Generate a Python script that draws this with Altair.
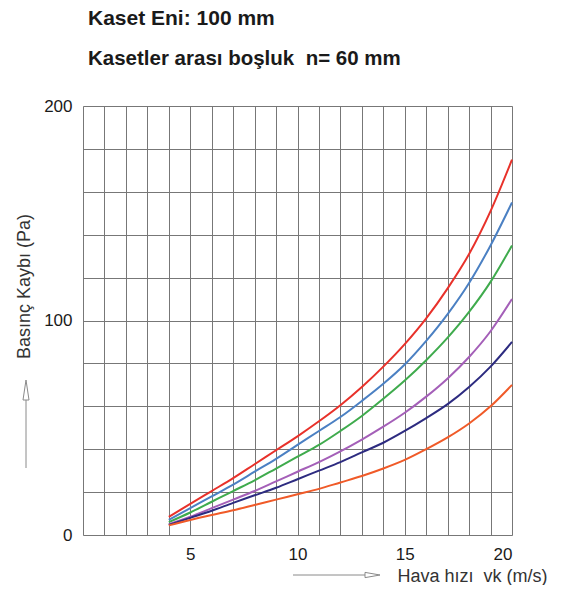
import altair as alt
import pandas as pd

# ---- data ----
vk = [4, 5, 6, 7, 8, 9, 10, 11, 12, 13, 14, 15, 16, 17, 18, 19, 20]
s1 = [8.5, 14.5, 20.5, 26.5, 33, 39.5, 46, 53, 60.5, 69, 78.5, 89, 101, 115, 131, 151, 175]
s2 = [7, 12.5, 18, 23.5, 29.5, 35.5, 42, 48.5, 55, 62.5, 70.5, 79.5, 90.5, 103, 117.5, 135, 155]
s3 = [6, 10.5, 15.5, 20.5, 25.5, 31, 36.5, 42, 48.5, 55.5, 63.5, 72, 81.5, 92, 104, 118, 135]
s4 = [5, 8.5, 12.5, 16.5, 20.5, 25, 29.5, 34, 39, 44.5, 50.5, 57, 64.5, 73, 83, 95, 110]
s5 = [4.7, 8, 11.3, 15, 18.5, 22, 26, 30, 34, 38.5, 43, 48.5, 54.5, 61, 69, 78.5, 90]
s6 = [4.5, 7, 9.3, 11.5, 14, 16.5, 19, 21.5, 24.5, 27.5, 31, 35, 40, 45.5, 52, 60, 70]

series_names = ["s1", "s2", "s3", "s4", "s5", "s6"]
series_values = [s1, s2, s3, s4, s5, s6]
series_colors = ["#e8312a", "#4b80c3", "#3fab4d", "#a45fb8", "#2d2b80", "#f05a28"]

x_ticks = list(range(0, 21))
y_ticks = list(range(0, 201, 20))

rows = []
for name, vals in zip(series_names, series_values):
    for xv, yv in zip(vk, vals):
        rows.append({"vk": xv, "dp": yv, "seri": name})
df = pd.DataFrame(rows)

FONT = "Liberation Sans"
GRID = "#777777"
ARROW = "#8a8a8a"

x_enc = alt.X(
    "vk:Q",
    scale=alt.Scale(domain=[0, 20], nice=False, zero=False),
    axis=alt.Axis(
        values=x_ticks,
        grid=True,
        gridColor=GRID,
        gridWidth=1,
        gridOpacity=1,
        ticks=False,
        domain=False,
        labelExpr="datum.value % 5 === 0 && datum.value > 0 ? datum.label : ''",
        labelFont=FONT,
        labelFontSize=17,
        labelColor="#1a1a1a",
        labelPadding=11,
        title="Hava hızı\u00a0 vk (m/s)",
        titleFont=FONT,
        titleFontSize=18,
        titleFontWeight="normal",
        titleColor="#333333",
        titleAnchor="start",
        titleAlign="left",
        titleBaseline="alphabetic",
        titleX=314,
        titleY=46,
    ),
)

y_enc = alt.Y(
    "dp:Q",
    scale=alt.Scale(domain=[0, 200], nice=False),
    axis=alt.Axis(
        values=y_ticks,
        grid=True,
        gridColor=GRID,
        gridWidth=1,
        gridOpacity=1,
        ticks=False,
        domain=False,
        labelExpr="datum.value % 100 === 0 ? datum.label : ''",
        labelFont=FONT,
        labelFontSize=17,
        labelColor="#1a1a1a",
        labelPadding=11,
        title="Basınç Kaybı (Pa)",
        titleFont=FONT,
        titleFontSize=18,
        titleFontWeight="normal",
        titleColor="#333333",
        titleAngle=270,
        titleAlign="center",
        titleBaseline="alphabetic",
        titleX=-54,
        titleY=180,
    ),
)

lines = alt.Chart(df).mark_line(strokeWidth=2, interpolate="monotone").encode(
    x=x_enc,
    y=y_enc,
    color=alt.Color(
        "seri:N",
        scale=alt.Scale(domain=series_names, range=series_colors),
        legend=None,
    ),
)

one = pd.DataFrame({"k": [0]})

# decorative arrows next to the axis titles
up_line = alt.Chart(one).mark_rule(color=ARROW, strokeWidth=1).encode(
    x=alt.value(-57), y=alt.value(294), y2=alt.value(362)
)
up_head = alt.Chart(one).mark_point(
    shape="M -0.3 1 L 0 -1 L 0.3 1 Z", filled=False, color=ARROW,
    size=400, strokeWidth=1, opacity=1
).encode(x=alt.value(-57), y=alt.value(284))

right_line = alt.Chart(one).mark_rule(color=ARROW, strokeWidth=1).encode(
    x=alt.value(210), x2=alt.value(282), y=alt.value(469)
)
right_head = alt.Chart(one).mark_point(
    shape="M -1 -0.35 L 1 0 L -1 0.35 Z", filled=False, color=ARROW,
    size=225, strokeWidth=1, opacity=1
).encode(x=alt.value(289.5), y=alt.value(469))

chart = (
    alt.layer(lines, up_line, up_head, right_line, right_head)
    .properties(
        width=429,
        height=429,
        padding={"left": 75, "top": 98, "right": 40, "bottom": 50},
        autosize=alt.AutoSizeParams(type="none"),
        title=alt.TitleParams(
            text="Kaset Eni: 100 mm",
            subtitle="Kasetler arası boşluk\u00a0 n= 60 mm",
            anchor="start",
            frame="group",
            dx=5,
            font=FONT,
            fontSize=21,
            fontWeight="bold",
            color="#1a1a1a",
            subtitleFont=FONT,
            subtitleFontSize=20.5,
            subtitleFontWeight="bold",
            subtitleColor="#1a1a1a",
            subtitlePadding=20,
            offset=28,
        ),
    )
    .configure_view(stroke=None)
    .configure(background="white")
)

chart.save("out.html", embed_options={"renderer": "svg", "actions": False})
